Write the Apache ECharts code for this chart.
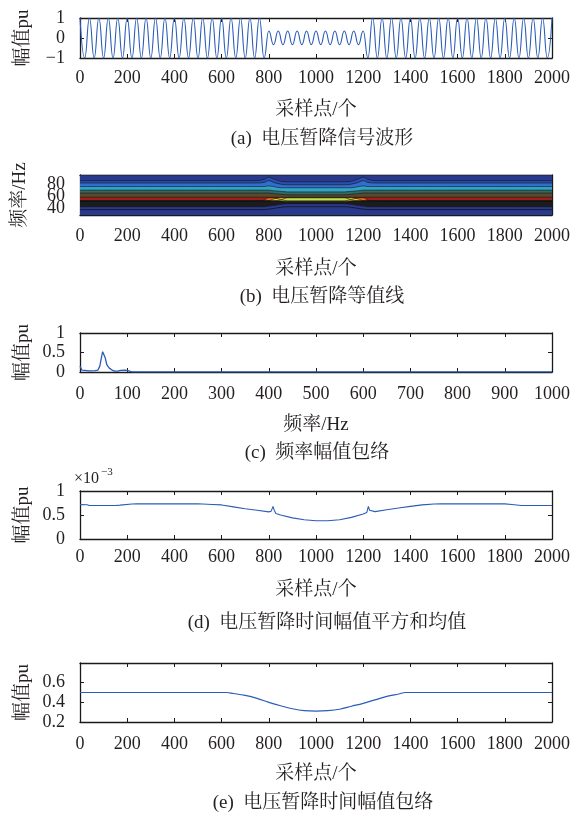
<!DOCTYPE html>
<html><head><meta charset="utf-8">
<script src="https://cdn.jsdelivr.net/npm/echarts@6/dist/echarts.min.js"></script>
<style>html,body{margin:0;padding:0;background:#fff}#c{width:576px;height:814px}</style>
</head><body><div id="c"></div>
<script>
// ---------- (a) voltage sag waveform: extrema read per half-cycle ----------
const waveX = [0,20,40,60,80,100,120,140,160,180,200,220,240,260,280,300,320,340,360,380,
400,420,440,460,480,500,520,540,560,580,600,620,640,660,680,700,720,740,760,780,
800,820,840,860,880,900,920,940,960,980,1000,1020,1040,1060,1080,1100,1120,1140,1160,1180,
1200,1220,1240,1260,1280,1300,1320,1340,1360,1380,1400,1420,1440,1460,1480,1500,1520,1540,1560,1580,
1600,1620,1640,1660,1680,1700,1720,1740,1760,1780,1800,1820,1840,1860,1880,1900,1920,1940,1960,1980,2000];
const waveY = [1,-1,1,-1,1,-1,1,-1,1,-1,1,-1,1,-1,1,-1,1,-1,1,-1,
1,-1,1,-1,1,-1,1,-1,1,-1,1,-1,1,-1,1,-1,1,-1,1,-1,
0.35,-0.33,0.35,-0.33,0.35,-0.33,0.35,-0.33,0.35,-0.33,0.35,-0.33,0.35,-0.33,0.35,-0.33,0.35,-0.33,0.35,-0.33,
0.35,-1,1,-1,1,-1,1,-1,1,-1,1,-1,1,-1,1,-1,1,-1,1,-1,
1,-1,1,-1,1,-1,1,-1,1,-1,1,-1,1,-1,1,-1,1,-1,1,-1,1];

// ---------- (b) contour bands: upper boundary (Hz) of each filled level ----------
const contourX       = [0,700,750,780,800,820,850,880,1120,1150,1180,1200,1220,1250,1300,2000];
const levelTop       = [95.5,95.5,95.5,95.5,95.5,95.5,95.5,95.5,95.5,95.5,95.5,95.5,95.5,95.5,95.5,95.5];
const levelLightBlue = [86,86,86,88,92,89,85,84,84,85,89,92,88,86,86,86];
const levelBlue      = [82,82,82,83,86,83,80,79,79,80,83,86,83,82,82,82];
const levelCyan      = [76,76,76,76,77,76,74,74,74,74,76,77,76,76,76,76];
const levelTeal      = [70,70,70,70,70,69,68,67,67,68,69,70,70,70,70,70];
const levelOlive     = [65,65,65,65,65,64,63,62,62,63,64,65,65,65,65,65];
const levelRed       = [58,58,58,58,58,58,58,58,58,58,58,58,58,58,58,58];
const levelOrange    = [52,52,52,53,57,57,54,52,52,54,57,57,53,52,52,52];
const levelYellow    = [52,52,52,52,52,55,57,57,57,57,55,52,52,52,52,52];
const levelYG        = [52,52,52,52,52,52,53,57.5,57.5,53,52,52,52,52,52,52];
const levelBlack     = [52,52,52,52,52,52,51.5,51,51,51.5,52,52,52,52,52,52];
const levelNavy      = [42,42,42,42,43,44,46,47,47,46,44,43,42,42,42,42];
const contourLine    = [37,37,37,37,38,39,41,42,42,41,39,38,37,37,37,37];
const freqTicks = [40,60,80];

// ---------- (c) frequency amplitude envelope ----------
const specX = [0,4,8,20,32,38,42,45,48,50,53,57,62,68,74,80,86,94,100,104,110,1000];
const specY = [0.15,0.05,0.03,0.03,0.035,0.05,0.15,0.35,0.52,0.55,0.38,0.18,0.1,0.05,0.02,0.02,0.04,0.045,0.04,0.01,0.005,0.005];

// ---------- (d) mean of squared amplitude (x1e-3) ----------
const msX = [0,30,40,150,170,220,240,500,520,560,600,650,700,750,800,810,818,823,830,850,900,950,1000,1050,1100,1150,1200,1215,1222,1227,1235,1250,1300,1350,1400,1450,1500,1530,1800,1830,1870,2000];
const msY = [0.717,0.715,0.697,0.697,0.705,0.73,0.732,0.732,0.73,0.72,0.71,0.67,0.63,0.6,0.565,0.58,0.68,0.6,0.53,0.5,0.44,0.4,0.38,0.38,0.4,0.45,0.52,0.55,0.68,0.6,0.565,0.57,0.61,0.645,0.68,0.71,0.73,0.732,0.732,0.72,0.697,0.697];

// ---------- (e) time amplitude envelope ----------
const envX = [0,620,650,700,750,800,850,900,950,1000,1050,1100,1150,1200,1250,1300,1350,1380,2000];
const envY = [0.5,0.5,0.49,0.47,0.44,0.40,0.365,0.335,0.315,0.31,0.315,0.33,0.36,0.39,0.425,0.46,0.485,0.5,0.5];

const captions = ['(a)  电压暂降信号波形','(b)  电压暂降等值线','(c)  频率幅值包络','(d)  电压暂降时间幅值平方和均值','(e)  电压暂降时间幅值包络'];

// ---------- styling / layout ----------
const TXT = '#231f20', AX = '#1a1a1a', BLUE = '#2a5cb8';
const NUM_FONT = "'Liberation Serif','Times New Roman',serif";
const CJK_FONT = "'Liberation Serif','Noto Serif CJK SC','Noto Sans CJK SC',serif";
const grids = [
  {left:80, top:18, width:472, height:40},
  {left:80, top:175, width:472, height:40},
  {left:80, top:333, width:472, height:39},
  {left:80, top:491, width:472, height:48},
  {left:80, top:663, width:472, height:59}
];
const xSpec = [
  {min:0,max:2000,interval:200,name:'采样点/个',margin:11,nameGap:43},
  {min:0,max:2000,interval:200,name:'采样点/个',margin:12,nameGap:45},
  {min:0,max:1000,interval:100,name:'频率/Hz',margin:13,nameGap:44},
  {min:0,max:2000,interval:200,name:'采样点/个',margin:9,nameGap:42},
  {min:0,max:2000,interval:200,name:'采样点/个',margin:13,nameGap:43}
];
const ySpec = [
  {min:-1,max:1,interval:1,name:'幅值pu',nameGap:47},
  {min:28,max:95.5,custom:[freqTicks[0],freqTicks[2]],name:'频率/Hz',nameGap:50},
  {min:0,max:1,interval:0.5,name:'幅值pu',nameGap:47},
  {min:0,max:1,interval:0.5,name:'幅值pu',nameGap:47},
  {min:0.2,max:0.8,interval:0.2,name:'幅值pu',nameGap:47,hideMax:true}
];
const capPos = [[322,139],[322,297],[317,453],[327,623],[323,803]];

const axLine = {show:true, onZero:false, lineStyle:{color:AX, width:1.3}};
const tick = {show:true, inside:true, length:4, lineStyle:{color:AX, width:1}};
const fmtY = v => String(Math.round(v*100)/100).replace('-', '\u2212');
const fmtX = v => String(Math.round(v));

const xAxis = [], yAxis = [];
xSpec.forEach((s,i)=>{
  const base = {type:'value', gridIndex:i, min:s.min, max:s.max, interval:s.interval, splitLine:{show:false}, axisLine:axLine, axisTick:tick};
  xAxis.push(Object.assign({}, base, {position:'bottom', name:s.name, nameLocation:'middle', nameGap:s.nameGap, nameMoveOverlap:false,
    nameTextStyle:{fontFamily:CJK_FONT, fontSize:19, color:TXT},
    axisLabel:{show:true, margin:s.margin, fontFamily:NUM_FONT, fontSize:18, color:TXT, formatter:fmtX, showMinLabel:true, showMaxLabel:true, hideOverlap:false}}));
  xAxis.push(Object.assign({}, base, {position:'top', axisLabel:{show:false}}));
});
ySpec.forEach((s,i)=>{
  const base = {type:'value', gridIndex:i, min:s.min, max:s.max, splitLine:{show:false}, axisLine:axLine};
  if (s.interval) base.interval = s.interval;
  const tk = Object.assign({}, tick); if (s.custom) tk.customValues = freqTicks;
  const lb = {show:true, margin:15, fontFamily:NUM_FONT, fontSize:18, color:TXT, formatter:fmtY, showMaxLabel:!s.hideMax, showMinLabel:true, hideOverlap:false};
  if (s.custom) lb.customValues = s.custom;
  yAxis.push(Object.assign({}, base, {position:'left', axisTick:tk, axisLabel:lb, name:s.name, nameLocation:'middle', nameRotate:90, nameGap:s.nameGap, nameMoveOverlap:false,
    nameTextStyle:{fontFamily:CJK_FONT, fontSize:19, color:TXT}}));
  yAxis.push(Object.assign({}, base, {position:'right', axisTick:tk, axisLabel:{show:false}}));
});
// extra label-only axis for the middle frequency tick (the labels overlap in the original)
yAxis.push({type:'value', gridIndex:1, min:28, max:95.5, position:'left', splitLine:{show:false},
  axisLine:{show:false}, axisTick:{show:false},
  axisLabel:{show:true, customValues:[freqTicks[1]], margin:15, fontFamily:NUM_FONT, fontSize:18, color:TXT, hideOverlap:false}});

const zip = (xs, ys) => xs.map((x,k)=>[x, ys[k]]);
const series = [];
series.push({type:'line', xAxisIndex:0, yAxisIndex:0, data:zip(waveX,waveY), smooth:true, smoothMonotone:'x', showSymbol:false, lineStyle:{color:BLUE, width:1.1}, silent:true});

const bands = [
  [levelTop,'#293a8c'],[levelLightBlue,'#2c4fae'],[levelBlue,'#2f6fcf'],[levelCyan,'#35a4c4'],
  [levelTeal,'#2f6b66'],[levelOlive,'#5a4a2b'],[levelRed,'#9e1f1f'],[levelOrange,'#ee6a22'],
  [levelYellow,'#f2cf2e'],[levelYG,'#c6de4c'],[levelBlack,'#1c1c1c'],[levelNavy,'#293a8c']
];
bands.forEach(([arr,col])=>{
  series.push({type:'line', xAxisIndex:2, yAxisIndex:2, data:zip(contourX,arr), smooth:0.3, showSymbol:false, silent:true,
    lineStyle:{color:'#111', width:0.7, opacity:0.8}, areaStyle:{color:col, opacity:1, origin:'start'}});
});
series.push({type:'line', xAxisIndex:2, yAxisIndex:2, data:zip(contourX,contourLine), smooth:0.3, showSymbol:false, silent:true, lineStyle:{color:'#111', width:0.8}});

series.push({type:'line', xAxisIndex:4, yAxisIndex:4, data:zip(specX,specY), showSymbol:false, silent:true, lineStyle:{color:BLUE, width:1.3}});
series.push({type:'line', xAxisIndex:6, yAxisIndex:6, data:zip(msX,msY), showSymbol:false, silent:true, lineStyle:{color:BLUE, width:1.1}});
series.push({type:'line', xAxisIndex:8, yAxisIndex:8, data:zip(envX,envY), smooth:0.4, showSymbol:false, silent:true, lineStyle:{color:BLUE, width:1.2}});

const graphic = captions.map((t,i)=>({type:'text', x:capPos[i][0], y:capPos[i][1],
  style:{text:t, textAlign:'center', textVerticalAlign:'middle', align:'center', verticalAlign:'middle', fill:TXT, font:"19px "+CJK_FONT}}));
graphic.push({type:'text', x:74, y:479, style:{text:'×10', textVerticalAlign:'middle', verticalAlign:'middle', fill:TXT, font:"16px "+NUM_FONT}});
graphic.push({type:'text', x:101, y:472, style:{text:'\u22123', textVerticalAlign:'middle', verticalAlign:'middle', fill:TXT, font:"11px "+NUM_FONT}});

const chart = echarts.init(document.getElementById('c'), null, {renderer:'canvas'});
chart.setOption({
  animation:false,
  backgroundColor:'#fff',
  grid: grids.map(g=>Object.assign({containLabel:false, outerBoundsMode:'none'}, g)),
  xAxis, yAxis, series, graphic
});
</script></body></html>
